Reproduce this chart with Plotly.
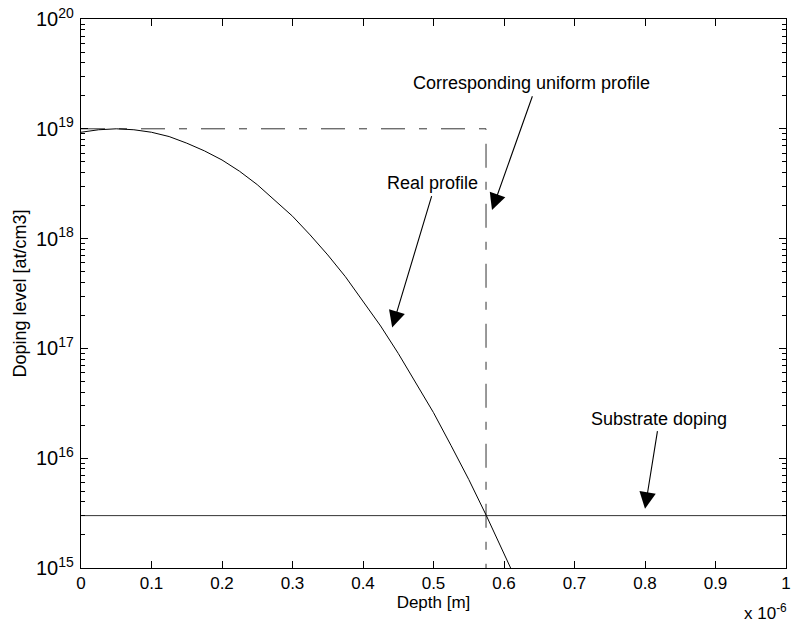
import plotly.graph_objects as go

# Real profile (depth in units of 1e-6 m, doping in at/cm3)
depth = [0, 0.025, 0.05, 0.075, 0.1, 0.125, 0.15, 0.175, 0.2, 0.225, 0.25, 0.275,
         0.3, 0.325, 0.35, 0.375, 0.4, 0.425, 0.45, 0.475, 0.5, 0.525, 0.55, 0.575,
         0.6, 0.6094]
doping = [9.3e18, 9.8e18, 1.0e19, 9.8e18, 9.3e18, 8.5e18, 7.4e18, 6.3e18, 5.2e18,
          4.1e18, 3.1e18, 2.25e18, 1.6e18, 1.08e18, 7.1e17, 4.5e17, 2.7e17, 1.6e17,
          9.0e16, 4.9e16, 2.6e16, 1.3e16, 6.4e15, 3.0e15, 1.36e15, 1.0e15]

# Corresponding uniform profile
uniform_x = [0, 0.5745, 0.5745]
uniform_y = [1e19, 1e19, 1e15]

# Substrate doping
substrate_x = [0, 1]
substrate_y = [3e15, 3e15]

x_ticks = [0, 0.1, 0.2, 0.3, 0.4, 0.5, 0.6, 0.7, 0.8, 0.9, 1]
x_ticklabels = ["0", "0.1", "0.2", "0.3", "0.4", "0.5", "0.6", "0.7", "0.8", "0.9", "1"]

FONT = "Liberation Sans, Arial, Helvetica, sans-serif"

fig = go.Figure()
fig.add_trace(go.Scatter(x=substrate_x, y=substrate_y, mode="lines",
                         line=dict(color="#333333", width=1), hoverinfo="skip"))
fig.add_trace(go.Scatter(x=uniform_x, y=uniform_y, mode="lines",
                         line=dict(color="#333333", width=1, dash="24px,14px,8px,14px"),
                         hoverinfo="skip"))
fig.add_trace(go.Scatter(x=depth, y=doping, mode="lines",
                         line=dict(color="black", width=1), hoverinfo="skip"))

# annotations: (text, text_x, text_y_log, tail_x, tail_y_log, tip_x, tip_y_log)
notes = [
    ("Corresponding uniform profile", 0.6397, 19.417, 0.641, 19.31, 0.583, 18.26),
    ("Real profile", 0.498, 18.506, 0.498, 18.40, 0.4414, 17.19),
    ("Substrate doping", 0.820, 16.357, 0.818, 16.26, 0.80, 15.54),
]
for txt, tx, ty, ax_, ay_, hx, hy in notes:
    fig.add_annotation(x=tx, y=ty, xref="x", yref="y", text=txt, showarrow=False,
                       font=dict(family=FONT, size=18, color="black"), yanchor="middle")
    fig.add_annotation(x=hx, y=hy, xref="x", yref="y", ax=ax_, ay=ay_,
                       axref="x", ayref="y", text="", showarrow=True,
                       arrowhead=2, arrowsize=3, arrowwidth=1.1, arrowcolor="black")

fig.add_annotation(x=1.004, y=-0.08, xref="paper", yref="paper",
                   text="x 10<sup>-6</sup>", showarrow=False, xanchor="right",
                   yanchor="middle", font=dict(family=FONT, size=17, color="black"))

fig.update_layout(
    width=791, height=630,
    margin=dict(l=81, r=5, t=19, b=62),
    paper_bgcolor="white", plot_bgcolor="white",
    showlegend=False,
    font=dict(family=FONT, size=17, color="black"),
)
fig.update_xaxes(
    range=[0, 1], tickvals=x_ticks, ticktext=x_ticklabels,
    ticks="inside", ticklen=7, tickcolor="black",
    tickfont=dict(family=FONT, size=17),
    showline=True, linecolor="black", linewidth=1, mirror="ticks",
    showgrid=False, zeroline=False, automargin=False,
    title=dict(text="Depth [m]", font=dict(family=FONT, size=17), standoff=2),
)
fig.update_yaxes(
    type="log", range=[15, 20], dtick=1, exponentformat="power",
    ticks="inside", ticklen=7, tickcolor="black",
    tickfont=dict(family=FONT, size=16), ticklabelstandoff=3,
    minor=dict(ticks="inside", ticklen=4, tickcolor="black", showgrid=False),
    showline=True, linecolor="black", linewidth=1, mirror="ticks",
    showgrid=False, zeroline=False, automargin=False,
    title=dict(text="Doping level [at/cm3]", font=dict(family=FONT, size=18), standoff=4),
)

fig.write_html(
    "out.html",
    config={"displayModeBar": False},
    post_script="document.body.style.margin='0';document.body.style.overflow='hidden';",
)
